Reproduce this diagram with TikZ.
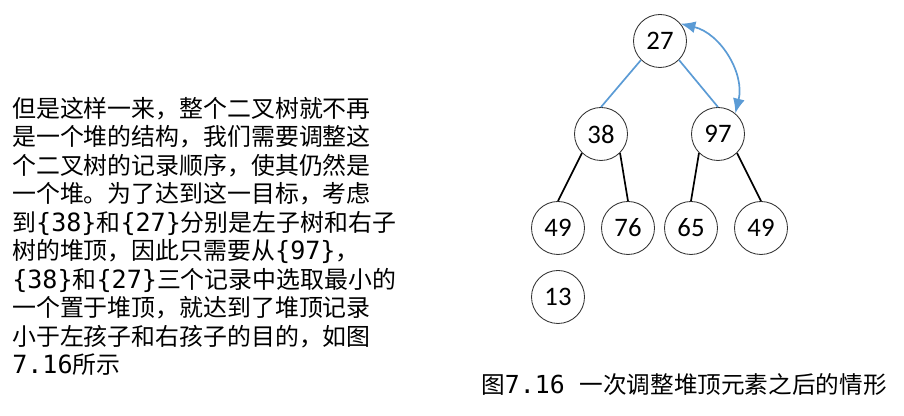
\documentclass[tikz,border=0pt]{standalone}
\usepackage{fontspec}
\setmainfont{Noto Sans CJK SC}
\newfontfamily\codefont{DejaVu Sans Mono}[Scale=1.05]
\newfontfamily\numfont{Carlito}
\newcommand{\dg}[1]{{\codefont #1}}
\usetikzlibrary{arrows.meta}
\definecolor{linkblue}{RGB}{91,155,213}

\begin{document}
\begin{tikzpicture}[
  heapnode/.style={draw=black!80,line width=0.6pt,circle,fill=white,minimum size=1.325cm,inner sep=0pt,font=\numfont\fontsize{19}{19}\selectfont},
  blueline/.style={linkblue,line width=1.2pt},
  blackline/.style={black,line width=1.2pt},
  ]
\useasboundingbox (0,0) rectangle (22.6,10.4);
\coordinate (A) at (16.5,9.375);
\coordinate (B) at (15.025,7.05);
\coordinate (C) at (17.95,7.05);
\coordinate (D) at (13.95,4.7);
\coordinate (E) at (15.7,4.7);
\coordinate (F) at (17.275,4.7);
\coordinate (G) at (19.025,4.7);
\coordinate (H) at (13.95,2.975);
\node[heapnode] (n27) at (A) {27};
\node[heapnode] (n38) at (B) {38};
\node[heapnode] (n97) at (C) {97};
\node[heapnode] (n49a) at (D) {49};
\node[heapnode] (n76) at (E) {76};
\node[heapnode] (n65) at (F) {65};
\node[heapnode] (n49b) at (G) {49};
\node[heapnode] (n13) at (H) {13};
\draw[blueline] (n27.-135)--(n38.north);
\draw[blueline] (n27.-45)--(n97.north);
\draw[blackline] (n38.-135)--(n49a.north);
\draw[blackline] (n38.-45)--(n76.north);
\draw[blackline] (n97.-135)--(n65.north);
\draw[blackline] (n97.-45)--(n49b.north);
\draw[blueline,{Latex[length=10.5pt,width=8.5pt]}-{Latex[length=10.5pt,width=8.5pt]}] (n27.40) to[bend left=45] (n97.50);
% text on the left
\node[anchor=west,align=left,inner sep=0pt,font=\fontsize{17}{20.3}\selectfont] (desc) at (0.3,4.49)
{但是这样一来，整个二叉树就不再\\
是一个堆的结构，我们需要调整这\\
个二叉树的记录顺序，使其仍然是\\
一个堆。为了达到这一目标，考虑\\
到\dg{\{38\}}和\dg{\{27\}}分别是左子树和右子\\
树的堆顶，因此只需要从\dg{\{97\}}，\\
\dg{\{38\}}和\dg{\{27\}}三个记录中选取最小的\\
一个置于堆顶，就达到了堆顶记录\\
小于左孩子和右孩子的目的，如图\\
\dg{7.16}所示};
% caption
\node[inner sep=0pt,font=\fontsize{16.8}{20}\selectfont] (cap) at (17.1,0.775)
{图\dg{7.16 }一次调整堆顶元素之后的情形};
\end{tikzpicture}
\end{document}
